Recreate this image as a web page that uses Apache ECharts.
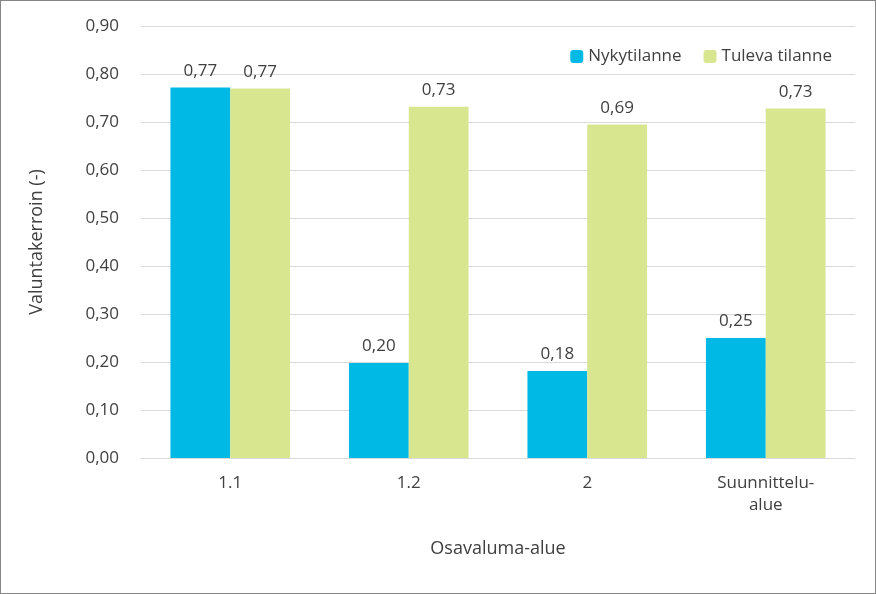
<!DOCTYPE html>
<html>
<head>
<meta charset="utf-8">
<script src="https://cdn.jsdelivr.net/npm/echarts@6/dist/echarts.min.js"></script>
<style>
  html, body { margin: 0; padding: 0; background: #fff; }
  #chart { width: 874px; height: 592px; border: 1px solid #868686; }
</style>
</head>
<body>
<div id="chart"></div>
<script>
const categories = ["1.1", "1.2", "2", "Suunnittelu-\nalue"];
const nykytilanne = [0.772, 0.198, 0.181, 0.250];
const tulevaTilanne = [0.770, 0.732, 0.695, 0.728];
const yTicks = { min: 0, max: 0.9, interval: 0.1 };

const chart = echarts.init(document.getElementById("chart"));
const fmt = v => v.toFixed(2).replace(".", ",");
const font = "Open Sans, sans-serif";

const label = {
  show: true,
  position: "top",
  distance: 8,
  color: "#404040",
  fontSize: 17,
  fontFamily: font,
  formatter: p => fmt(p.value)
};

chart.setOption({
  textStyle: { fontFamily: font },
  animation: false,
  grid: { left: 140, right: 20, top: 25, bottom: 135 },
  legend: {
    top: 42,
    right: 38,
    itemWidth: 13,
    itemHeight: 13,
    itemGap: 22,
    textStyle: { color: "#404040", fontSize: 17, fontFamily: font },
    data: ["Nykytilanne", "Tuleva tilanne"]
  },
  xAxis: {
    type: "category",
    data: categories,
    name: "Osavaluma-alue",
    nameLocation: "middle",
    nameGap: 82,
    nameTextStyle: { color: "#404040", fontSize: 18 },
    axisLine: { lineStyle: { color: "#d9d9d9" } },
    axisTick: { show: false },
    axisLabel: { color: "#404040", fontSize: 17, margin: 14, lineHeight: 22 }
  },
  yAxis: {
    type: "value",
    min: yTicks.min,
    max: yTicks.max,
    interval: yTicks.interval,
    name: "Valuntakerroin (-)",
    nameLocation: "middle",
    nameGap: 95,
    nameTextStyle: { color: "#404040", fontSize: 18 },
    axisLabel: { color: "#404040", fontSize: 17, margin: 22, formatter: fmt },
    splitLine: { lineStyle: { color: "#d9d9d9" } }
  },
  series: [
    {
      name: "Nykytilanne",
      type: "bar",
      data: nykytilanne,
      barWidth: "33.5%",
      barGap: "0%",
      itemStyle: { color: "#00B9E4" },
      label
    },
    {
      name: "Tuleva tilanne",
      type: "bar",
      data: tulevaTilanne,
      barWidth: "33.5%",
      itemStyle: { color: "#D7E68F" },
      label
    }
  ]
});
</script>
</body>
</html>
